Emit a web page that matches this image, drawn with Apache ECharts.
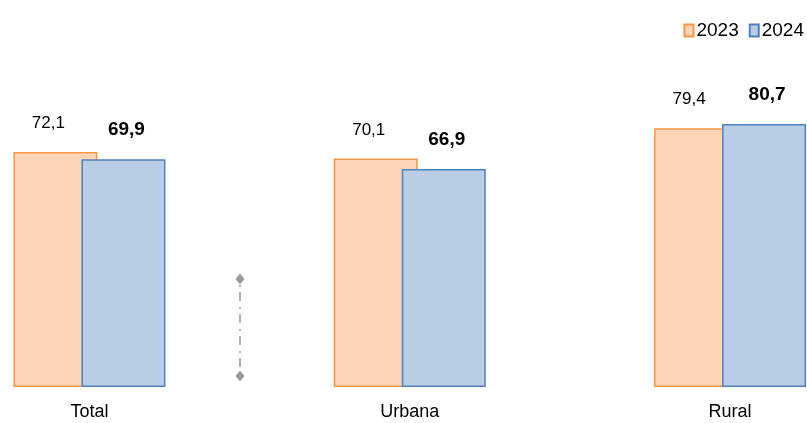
<!DOCTYPE html>
<html>
<head>
<meta charset="utf-8">
<script src="https://cdn.jsdelivr.net/npm/echarts@6/dist/echarts.min.js"></script>
<style>html,body{margin:0;padding:0;background:#fff;}#c{width:807px;height:423px;}</style>
</head>
<body>
<div id="c"></div>
<script>
const categories = ['Total', 'Urbana', 'Rural'];
const seriesNames = ['2023', '2024'];
const values2023 = [72.1, 70.1, 79.4];
const values2024 = [69.9, 66.9, 80.7];

const FONT = "'Liberation Sans', Arial, sans-serif";
const fmt = p => String(p.value).replace('.', ',');

const chart = echarts.init(document.getElementById('c'), null, {renderer: 'canvas'});
chart.setOption({
  animation: false,
  backgroundColor: '#ffffff',
  legend: {
    right: -2, top: 16,
    itemWidth: 9, itemHeight: 12, itemGap: 10,
    icon: 'rect',
    textStyle: {fontFamily: FONT, fontSize: 19, color: '#000', padding: [0, 0, 0, -2]},
    data: seriesNames
  },
  grid: {left: -70.75, width: 961, top: 61, bottom: 36, containLabel: false, outerBoundsMode: 'none'},
  xAxis: {
    type: 'category',
    data: categories,
    axisLine: {show: false},
    axisTick: {show: false},
    axisLabel: {fontFamily: FONT, fontSize: 18, color: '#000', margin: 16}
  },
  yAxis: {type: 'value', min: 0, max: 100, show: false, splitLine: {show: false}},
  series: [
    {
      name: seriesNames[0], type: 'bar', data: values2023,
      barWidth: 84, barGap: '-19%',
      itemStyle: {color: '#FCD5B5', borderColor: '#F79646', borderWidth: 1.5},
      label: {show: true, position: 'top', distance: 20, offset: [-7, 0],
        fontFamily: FONT, fontSize: 17, color: '#000', formatter: fmt}
    },
    {
      name: seriesNames[1], type: 'bar', data: values2024,
      barWidth: 84,
      itemStyle: {color: '#B9CDE5', borderColor: '#4F81BD', borderWidth: 1.5},
      label: {show: true, position: 'top', distance: 20, offset: [3, 0],
        fontFamily: FONT, fontSize: 19, fontWeight: 'bold', color: '#000', formatter: fmt}
    }
  ],
  graphic: [
    {type: 'line', shape: {x1: 240, y1: 285, x2: 240, y2: 370},
      style: {stroke: '#9e9e9e', lineWidth: 1.6, lineDash: [2, 5, 9, 6]}},
    {type: 'polygon', shape: {points: [[240, 273.5], [244.5, 279], [240, 284.5], [235.5, 279]]},
      style: {fill: '#999999'}},
    {type: 'polygon', shape: {points: [[240, 370.5], [244.5, 376], [240, 381.5], [235.5, 376]]},
      style: {fill: '#999999'}}
  ]
});
</script>
</body>
</html>
